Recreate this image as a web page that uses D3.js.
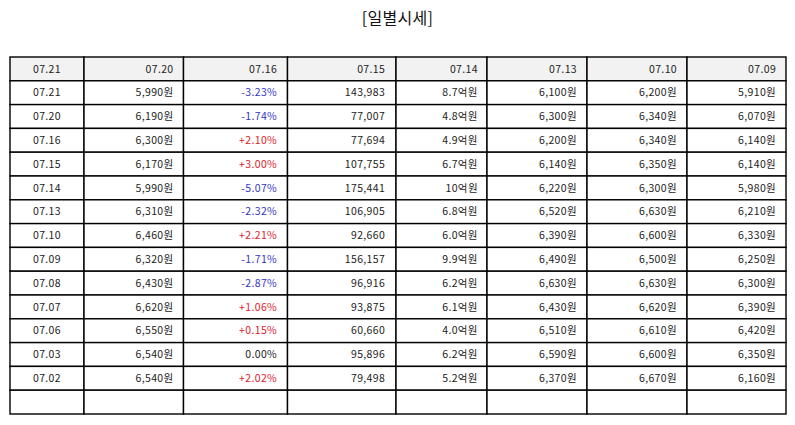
<!DOCTYPE html>
<html><head><meta charset="utf-8">
<script src="https://cdn.jsdelivr.net/npm/d3@7"></script>
<style>html,body{margin:0;padding:0;background:#fff;}svg{display:block;}</style>
</head><body>
<svg id="chart" width="795" height="425"></svg>
<script>
const title = "[일별시세]";
const headers = ["07.21","07.20","07.16","07.15","07.14","07.13","07.10","07.09"];
const dates = ["07.21","07.20","07.16","07.15","07.14","07.13","07.10","07.09","07.08","07.07","07.06","07.03","07.02"];
const closes = ["5,990원","6,190원","6,300원","6,170원","5,990원","6,310원","6,460원","6,320원","6,430원","6,620원","6,550원","6,540원","6,540원"];
const changes = ["-3.23%","-1.74%","+2.10%","+3.00%","-5.07%","-2.32%","+2.21%","-1.71%","-2.87%","+1.06%","+0.15%","0.00%","+2.02%"];
const volumes = ["143,983","77,007","77,694","107,755","175,441","106,905","92,660","156,157","96,916","93,875","60,660","95,896","79,498"];
const amounts = ["8.7억원","4.8억원","4.9억원","6.7억원","10억원","6.8억원","6.0억원","9.9억원","6.2억원","6.1억원","4.0억원","6.2억원","5.2억원"];
const opens = ["6,100원","6,300원","6,200원","6,140원","6,220원","6,520원","6,390원","6,490원","6,630원","6,430원","6,510원","6,590원","6,370원"];
const highs = ["6,200원","6,340원","6,340원","6,350원","6,300원","6,630원","6,600원","6,500원","6,630원","6,620원","6,610원","6,600원","6,670원"];
const lows = ["5,910원","6,070원","6,140원","6,140원","5,980원","6,210원","6,330원","6,250원","6,300원","6,390원","6,420원","6,350원","6,160원"];

// layout (relative column widths)
const colWeights = [74, 99.5, 104, 108.5, 91, 100, 100, 99];

const columns = [dates, closes, changes, volumes, amounts, opens, highs, lows];
const rows = dates.map((d, i) => columns.map(c => c[i]));
rows.push(columns.map(() => ""));
const table = [headers].concat(rows);

const svg = d3.select("#chart");
const font = "'Noto Sans CJK KR', 'Noto Sans', sans-serif";

svg.append("text").attr("x", 397.5).attr("y", 23.5)
  .attr("text-anchor", "middle").attr("font-family", font)
  .attr("font-size", 16).attr("letter-spacing", 0.3).attr("fill", "#111").text(title);

const edges = [0];
colWeights.forEach(w => edges.push(edges[edges.length - 1] + w));
const x = d3.scaleLinear().domain([0, edges[edges.length - 1]]).range([10, 786]);
const y = d3.scaleBand().domain(d3.range(table.length)).range([57, 414]).padding(0);

function color(v, ci, ri) {
  if (ri === 0 || ci !== 2) return "#222";
  if (v.startsWith("+")) return "#e0202a";
  if (v.startsWith("-")) return "#3535c8";
  return "#222";
}

const g = svg.append("g");
table.forEach((row, ri) => {
  row.forEach((v, ci) => {
    const x0 = x(edges[ci]), x1 = x(edges[ci + 1]);
    const w = x1 - x0;
    g.append("rect").attr("x", x0).attr("y", y(ri))
      .attr("width", w).attr("height", y.bandwidth())
      .attr("fill", ri === 0 ? "#f2f2f2" : "#fff")
      .attr("stroke", "#000").attr("stroke-width", 1.4);
    if (v !== "") {
      const center = ci === 0;
      g.append("text")
        .attr("x", center ? x0 + w / 2 : x1 - w * 0.1)
        .attr("y", y(ri) + y.bandwidth() / 2)
        .attr("dy", "0.36em")
        .attr("text-anchor", center ? "middle" : "end")
        .attr("font-family", font).attr("font-size", 10.5)
        .attr("letter-spacing", 0.35)
        .attr("fill", color(v, ci, ri))
        .text(v);
    }
  });
});
</script>
</body></html>
